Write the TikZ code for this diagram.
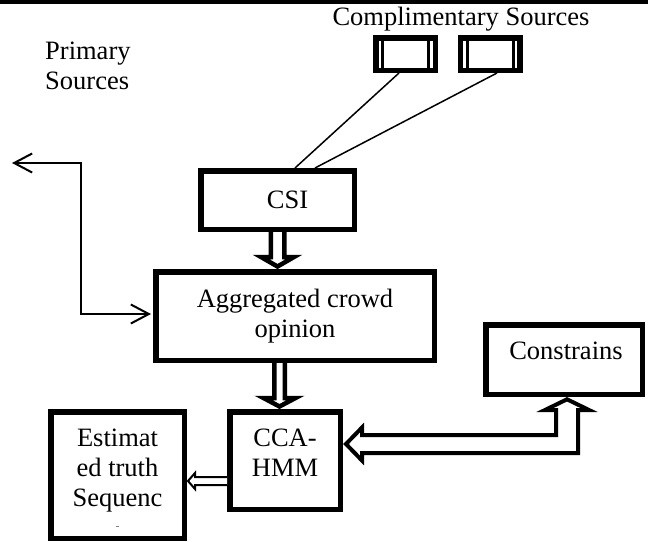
\documentclass[tikz,border=0pt]{standalone}
\usepackage{fontspec}
\setmainfont{Liberation Serif}
\usetikzlibrary{arrows.meta,calc}
\newcommand\diagfont{\fontsize{26.5pt}{30pt}\selectfont}
\begin{document}
\begin{tikzpicture}[x=1pt,y=-1pt,
  box/.style={draw,line width=5.5pt,inner sep=0pt,font=\diagfont,align=center},
  txt/.style={inner sep=0pt,font=\diagfont,align=center},
  srcbox/.style={draw,line width=5.5pt,inner sep=0pt,minimum width=59.5pt,minimum height=32.5pt},
  blk/.style={draw,fill=white,line width=4.5pt,line join=miter},
  thinblk/.style={draw,fill=white,line width=2pt,line join=miter},
  conn/.style={line width=2pt},
  barb/.style={conn,{Straight Barb[length=18pt,width=19pt]}-{Straight Barb[length=18pt,width=19pt]}},
  feed/.style={line width=1.5pt}]
\useasboundingbox (0,0) rectangle (648,541);
\fill[black] (0,0) rectangle (648,4);

% texts
\node[txt,anchor=base] (comp) at (461,25) {Complimentary Sources};
\node[txt,align=left,anchor=base west] (prim) at (45,89) {Primary\\Sources};

% source boxes
\node[srcbox] (src1) at (405.5,54) {};
\node[srcbox] (src2) at (490,54) {};
\foreach \s in {src1,src2}{
  \draw[line width=3pt] ($(\s.north west)+(9.5,5)$) -- ($(\s.south west)+(9.5,-5)$);
  \draw[line width=3pt] ($(\s.north east)+(-9.5,5)$) -- ($(\s.south east)+(-9.5,-5)$);
}

% main boxes
\node[box,minimum width=153.5pt,minimum height=58.5pt] (csi) at (277.5,200) {\hspace*{20pt}CSI};
\node[box,minimum width=278.5pt,minimum height=88.5pt] (agg) at (295,316) {Aggregated crowd\\opinion};
\node[box,minimum width=110.5pt,minimum height=97.5pt] (cca) at (285,460.5) {};
\node[txt] (ccat) at (285,453) {CCA-\\HMM};
\node[box,minimum width=133.5pt,minimum height=126.5pt] (est) at (117.5,475) {};
\node[txt] (estt) at (117.5,471) {Estimat\\ed truth\\Sequenc};
\draw[gray,line width=0.8pt] ($(estt.south)+(-1.5,14)$) -- ($(estt.south)+(1.5,14)$);
\node[box,minimum width=156.5pt,minimum height=69.5pt] (con) at (564,359.5) {};
\node[txt] (cont) at (566,351) {Constrains};

% feed lines from complimentary sources
\draw[feed] ([xshift=-6.5pt]src1.south) -- ([xshift=17.5pt]csi.north);
\draw[feed] ([xshift=7pt]src2.south) -- ([xshift=37.5pt]csi.north);

% primary sources connector
\coordinate (pfree) at (12,163);
\draw[barb] (pfree) -| ([xshift=-72pt,yshift=2pt]agg.west) -- ([xshift=-2pt,yshift=2pt]agg.west);

% block arrow CSI -> Aggregated
\coordinate (s1) at (csi.south);
\coordinate (t1) at (agg.north -| csi.south);
\draw[blk] ($(s1)+(-6.75,0)$) -- ($(t1)+(-6.75,-12)$) -- ($(t1)+(-16.5,-12)$) -- ($(t1)+(0,-2.5)$)
  -- ($(t1)+(16.5,-12)$) -- ($(t1)+(6.75,-12)$) -- ($(s1)+(6.75,0)$);

% block arrow Aggregated -> CCA-HMM
\coordinate (s2) at ($(cca.north |- agg.south)+(-5.5,0)$);
\coordinate (t2) at ($(cca.north)+(-5.5,0)$);
\draw[blk] ($(s2)+(-5.25,0)$) -- ($(t2)+(-5.25,-11)$) -- ($(t2)+(-16,-11)$) -- ($(t2)+(0,-2.5)$)
  -- ($(t2)+(16,-11)$) -- ($(t2)+(5.25,-11)$) -- ($(s2)+(5.25,0)$);

% block arrow CCA-HMM -> Estimated
\coordinate (s3) at ($(cca.west)+(0,20.5)$);
\coordinate (t3) at (est.east |- s3);
\draw[thinblk] ($(s3)+(0,-4)$) -- ($(t3)+(8,-4)$) -- ($(t3)+(8,-8)$) -- ($(t3)+(1,0)$)
  -- ($(t3)+(8,8)$) -- ($(t3)+(8,4)$) -- ($(s3)+(0,4)$);

% double-headed block arrow Constrains <-> CCA-HMM
\coordinate (A) at ($(cca.east)+(0,-16.5)$);
\coordinate (B) at ($(con.south)+(3,0)$);
\coordinate (C) at (B |- A);
\draw[blk,line width=4pt] ($(A)+(3,0)$) -- ($(A)+(19,-16.5)$) -- ($(A)+(19,-9)$) -- ($(C)+(-11,-9)$)
  -- ($(B)+(-11,13)$) -- ($(B)+(-22,13)$) -- ($(B)+(0,2.3)$) -- ($(B)+(22,13)$) -- ($(B)+(11,13)$)
  -- ($(C)+(11,9)$) -- ($(A)+(19,9)$) -- ($(A)+(19,16.5)$) -- cycle;
\end{tikzpicture}
\end{document}
